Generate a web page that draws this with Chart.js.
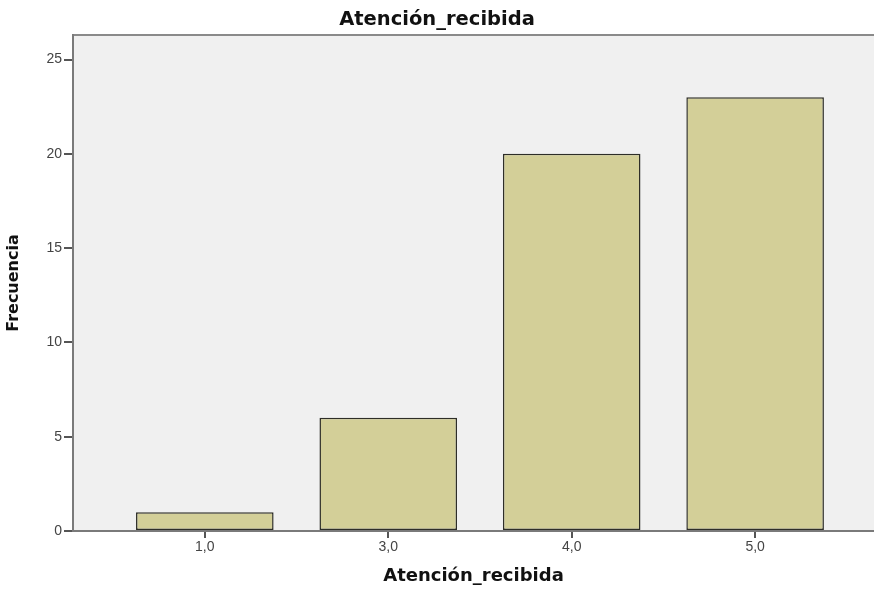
<!DOCTYPE html>
<html>
<head>
<meta charset="utf-8">
<script src="https://cdn.jsdelivr.net/npm/chart.js@4/dist/chart.umd.min.js"></script>
<style>
  body { margin: 0; background: #fff; }
  #wrap { width: 874px; height: 589px; }
</style>
</head>
<body>
<div id="wrap"><canvas id="chart" width="874" height="589"></canvas></div>
<script>
// datos
const categorias = ["1,0", "3,0", "4,0", "5,0"];
const frecuencias = [1, 6, 20, 23];
const ticksY = [0, 5, 10, 15, 20, 25];

// fondo gris del área de trazado + borde superior
const fondoPlot = {
  id: "fondoPlot",
  beforeDraw(chart) {
    const { ctx, chartArea: a } = chart;
    ctx.save();
    ctx.fillStyle = "#f0f0f0";
    ctx.fillRect(a.left, a.top, a.right - a.left, a.bottom - a.top);
    ctx.strokeStyle = "#8a8a8a";
    ctx.lineWidth = 2;
    ctx.beginPath();
    ctx.moveTo(a.left, a.top);
    ctx.lineTo(a.right, a.top);
    ctx.stroke();
    ctx.restore();
  },
};

const ctx = document.getElementById("chart").getContext("2d");
new Chart(ctx, {
  type: "bar",
  data: {
    datasets: [
      {
        data: categorias.map((c, i) => ({ x: i, y: frecuencias[i] })),
        backgroundColor: "#d3cf98",
        borderColor: "#2e2e28",
        borderWidth: 1.5,
        borderSkipped: false,
        barPercentage: 0.75,
        categoryPercentage: 1,
      },
    ],
  },
  options: {
    responsive: false,
    animation: false,
    layout: { padding: 0 },
    plugins: {
      legend: { display: false },
      tooltip: { enabled: false },
      title: {
        display: true,
        text: "Atención_recibida",
        color: "#111",
        font: { family: "DejaVu Sans", size: 19.5, weight: "bold" },
        padding: { top: 8, bottom: 3.6 },
      },
    },
    scales: {
      x: {
        type: "linear",
        offset: false,
        min: -0.7186,
        max: 3.648,
        afterFit: (s) => { s.height = 58; },
        afterBuildTicks: (s) => { s.ticks = categorias.map((c, i) => ({ value: i })); },
        ticks: {
          callback: (v) => categorias[v],
          color: "#444",
          font: { family: "Liberation Sans", size: 14 },
          padding: 1,
          maxRotation: 0,
        },
        grid: { offset: false, drawOnChartArea: false, drawTicks: true, tickLength: 7, color: "#555", lineWidth: 2 },
        border: { color: "#7a7a7a", width: 2 },
        title: {
          display: true,
          text: "Atención_recibida",
          color: "#111",
          font: { family: "DejaVu Sans", size: 18, weight: "bold" },
          padding: { top: 4, bottom: 2 },
        },
      },
      y: {
        min: 0,
        max: 26.3,
        afterFit: (s) => { s.width = 73; },
        afterBuildTicks: (s) => { s.ticks = ticksY.map((v) => ({ value: v })); },
        ticks: {
          color: "#444",
          font: { family: "Liberation Sans", size: 14 },
          padding: 2,
        },
        grid: { drawOnChartArea: false, drawTicks: true, tickLength: 9, color: "#555", lineWidth: 2 },
        border: { color: "#7a7a7a", width: 2 },
        title: {
          display: true,
          text: "Frecuencia",
          color: "#111",
          font: { family: "DejaVu Sans", size: 16, weight: "bold" },
          padding: { top: 4, bottom: 4 },
        },
      },
    },
  },
  plugins: [fondoPlot],
});
</script>
</body>
</html>
